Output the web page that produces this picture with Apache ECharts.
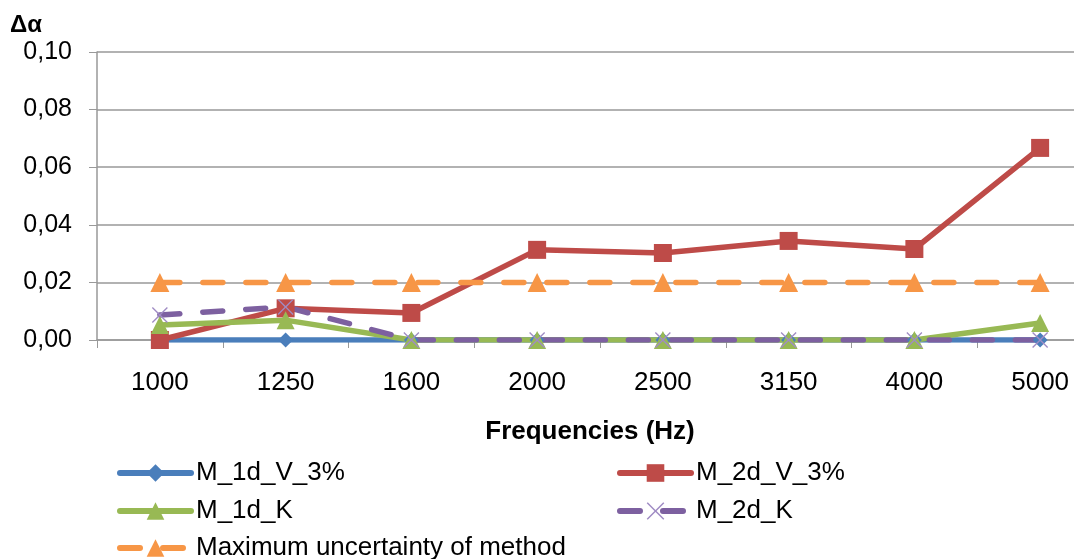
<!DOCTYPE html>
<html>
<head>
<meta charset="utf-8">
<script src="https://cdn.jsdelivr.net/npm/echarts@6/dist/echarts.min.js"></script>
<style>
  html, body { margin: 0; padding: 0; background: #fff; overflow: hidden; }
  #chart { width: 1110px; height: 559px; }
</style>
</head>
<body>
<div id="chart"></div>
<script>
// frequencies (Hz)
var freqs = ['1000', '1250', '1600', '2000', '2500', '3150', '4000', '5000'];

// delta alpha per series
var m1dV = [0, 0, 0, 0, 0, 0, 0, 0];
var m2dV = [0, 0.011, 0.0094, 0.0313, 0.0302, 0.0344, 0.0316, 0.0667];
var m1dK = [0.0052, 0.0069, 0, 0, 0, 0, 0, 0.0059];
var m2dK = [0.0087, 0.0115, 0, 0, 0, 0, 0, 0];
var maxUnc = [0.02, 0.02, 0.02, 0.02, 0.02, 0.02, 0.02, 0.02];

var font = 'Liberation Sans, Arial, sans-serif';
var crossPath = 'path://M0,0.6L0.6,0L5,4.4L9.4,0L10,0.6L5.6,5L10,9.4L9.4,10L5,5.6L0.6,10L0,9.4L4.4,5Z';

// the plot runs past the right edge of the picture, so the canvas is wider than the window
var myChart = echarts.init(document.getElementById('chart'));

function lineSeries(name, data, color, symbol, size, dash, symColor) {
  return {
    name: name,
    type: 'line',
    data: data,
    symbol: symbol,
    symbolSize: size,
    showAllSymbol: true,
    lineStyle: { color: color, width: 5.5, type: dash || 'solid', cap: 'round' },
    itemStyle: { color: symColor || color, borderWidth: 0 },
    emphasis: { disabled: true },
    animation: false
  };
}

function legendItem(name, left, top) {
  return {
    left: left,
    top: top,
    itemWidth: 71,
    itemHeight: 22,
    data: [name],
    lineStyle: { width: 6 },
    textStyle: { fontFamily: font, fontSize: 26, color: '#000' }
  };
}

var option = {
  title: {
    text: 'Δα',
    left: 5,
    top: 8,
    textStyle: { fontFamily: font, fontWeight: 'bold', fontSize: 24, color: '#000' }
  },
  grid: { left: 97, right: 7, top: 52, height: 288, containLabel: false },
  xAxis: {
    type: 'category',
    data: freqs,
    boundaryGap: true,
    name: 'Frequencies (Hz)',
    nameLocation: 'middle',
    nameGap: 79,
    nameTextStyle: { fontFamily: font, fontWeight: 'bold', fontSize: 26, color: '#000', padding: [0, 20, 0, 0] },
    axisLine: { lineStyle: { color: '#999', width: 1.5 } },
    axisTick: { show: true, length: 8, lineStyle: { color: '#999' } },
    axisLabel: { fontFamily: font, fontSize: 26, color: '#000', margin: 30 },
    splitLine: { show: false }
  },
  yAxis: {
    type: 'value',
    min: 0,
    max: 0.1,
    interval: 0.02,
    axisLine: { show: true, lineStyle: { color: '#999', width: 1.5 } },
    axisTick: { show: true, length: 8, lineStyle: { color: '#999' } },
    axisLabel: {
      fontFamily: font, fontSize: 25, color: '#000', margin: 25,
      formatter: function (v) { return v.toFixed(2).replace('.', ','); }
    },
    splitLine: { lineStyle: { color: '#999', width: 1.5 } }
  },
  legend: [
    legendItem('M_1d_V_3%', 112, 455),
    legendItem('M_1d_K', 112, 493),
    legendItem('Maximum uncertainty of method', 112, 530),
    legendItem('M_2d_V_3%', 612, 455),
    legendItem('M_2d_K', 612, 493)
  ],
  series: [
    lineSeries('M_1d_V_3%', m1dV, '#4a7ebb', 'diamond', 15),
    lineSeries('M_2d_V_3%', m2dV, '#be4b48', 'rect', 18),
    lineSeries('M_1d_K', m1dK, '#98b954', 'triangle', 18),
    lineSeries('M_2d_K', m2dK, '#7d60a0', crossPath, 16, [20, 23], '#a08cc4'),
    lineSeries('Maximum uncertainty of method', maxUnc, '#f79646', 'triangle', 19, [20, 23])
  ]
};
myChart.setOption(option);
</script>
</body>
</html>
